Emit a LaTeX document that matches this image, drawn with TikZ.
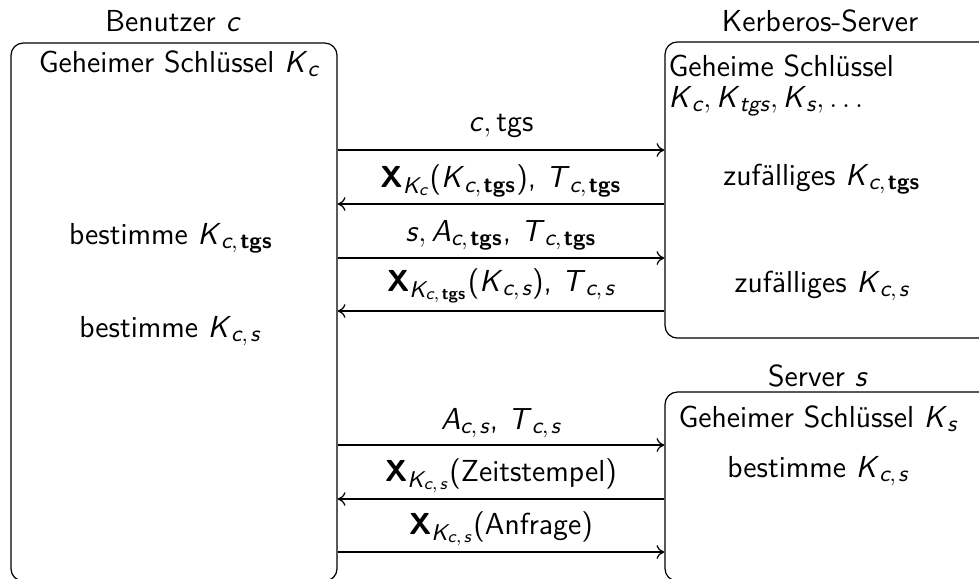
\documentclass[tikz,border=0pt]{standalone}
\usepackage{amsmath}
\usetikzlibrary{arrows.meta}
\renewcommand{\familydefault}{\sfdefault}
\DeclareMathSizes{12.4}{12.4}{9.3}{7}
% sans italic variables and bold protocol name
\newcommand{\V}[1]{\textit{#1}}
\newcommand{\tg}{\textbf{tgs}}
\newcommand{\Enc}{\textbf{X}}
\newcommand{\tc}{$,\,$}
% subscript pairs
\newcommand{\ct}{\V{c},\mskip2mu\tg}
\newcommand{\cs}{\V{c},\mskip2mu\V{s}}
\begin{document}
\begin{tikzpicture}[x=0.408pt,y=-0.408pt,
  every node/.style={font=\fontsize{12.4pt}{14.8pt}\selectfont},
  party/.style={draw,rounded corners=5pt,line width=0.5pt,inner sep=0pt},
  txt/.style={inner sep=0pt,anchor=center},
  msg/.style={-{To[length=3.2pt,width=5.6pt]},line width=0.5pt}]
\useasboundingbox (0,0) rectangle (979,578);

% participants
\node[party,minimum width=133pt,minimum height=219.5pt] (user) at (174,312) {};
\node[party,minimum width=138.7pt,minimum height=120.8pt] (kdc) at (835,190) {};
\node[party,minimum width=138.7pt,minimum height=77.1pt] (srv) at (835,486.5) {};

% titles
\node[txt] (tuser) at (173,21) {Benutzer \V{c}};
\node[txt] (tkdc) at (820,21) {Kerberos-Server};
\node[txt] (tsrv) at (818,376) {Server \V{s}};

% contents of the user box
\node[txt] (u1) at (179,64) {Geheimer Schlüssel \V{K}$_{\V{c}}$};
\node[txt] (u2) at (171,238) {bestimme \V{K}$_{\ct}$};
\node[txt] (u3) at (170,331) {bestimme \V{K}$_{\cs}$};

% contents of the Kerberos box
\node[txt,anchor=west] (k1) at (668,66) {Geheime Schlüssel};
\node[txt,anchor=west] (k2) at (668,101) {\V{K}$_{\V{c}}$\tc\V{K}$_{\V{tgs}}$\tc\V{K}$_{\V{s}}$\tc$\ldots$};
\node[txt] (k3) at (822,179) {zufälliges \V{K}$_{\ct}$};
\node[txt] (k4) at (822,286) {zufälliges \V{K}$_{\cs}$};

% contents of the server box
\node[txt] (s1) at (818,419) {Geheimer Schlüssel \V{K}$_{\V{s}}$};
\node[txt] (s2) at (818,471) {bestimme \V{K}$_{\cs}$};

% message labels
\node[txt] (m1) at (501,126) {\V{c}\tc tgs};
\node[txt] (m2) at (501,181) {\Enc$_{\V{K}_{\V{c}}}$(\V{K}$_{\ct}$), \V{T}$_{\ct}$};
\node[txt] (m3) at (501,235) {\V{s}\tc\V{A}$_{\ct}$, \V{T}$_{\ct}$};
\node[txt] (m4) at (501,286) {\Enc$_{\V{K}_{\ct}}$(\V{K}$_{\cs}$), \V{T}$_{\cs}$};
\node[txt] (m5) at (501,423) {\V{A}$_{\cs}$, \V{T}$_{\cs}$};
\node[txt] (m6) at (501,476) {\Enc$_{\V{K}_{\cs}}$(Zeitstempel)};
\node[txt] (m7) at (501,529) {\Enc$_{\V{K}_{\cs}}$(Anfrage)};

% messages
\draw[msg] (user.east |- 0,150) -- (kdc.west |- 0,150);
\draw[msg] (kdc.west |- 0,204) -- (user.east |- 0,204);
\draw[msg] (user.east |- 0,258) -- (kdc.west |- 0,258);
\draw[msg] (kdc.west |- 0,311) -- (user.east |- 0,311);
\draw[msg] (user.east |- 0,445) -- (srv.west |- 0,445);
\draw[msg] (srv.west |- 0,499) -- (user.east |- 0,499);
\draw[msg] (user.east |- 0,552) -- (srv.west |- 0,552);
\end{tikzpicture}
\end{document}
